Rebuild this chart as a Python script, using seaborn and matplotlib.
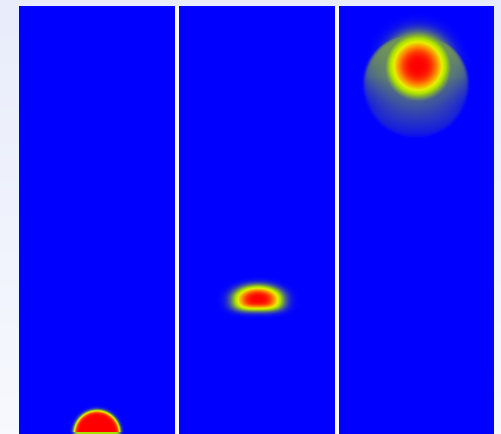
import numpy as np
import matplotlib
matplotlib.use("Agg")
import matplotlib.pyplot as plt
import seaborn as sns
from matplotlib.colors import LinearSegmentedColormap

# ---- data (panel-local pixel units) ----
panel_names = ["t0", "t1", "t2"]
grid_nx = [156, 156, 155]
grid_ny = [428, 428, 428]
# bubble core centres
core_x = [78, 79, 79]
core_y = [427.5, 293, 60]
# panel 1: sharp semicircle
cap_radius = 23.0
cap_edge = 1.1
# panel 2: soft cap (half widths at yellow level)
cap2_ax = 20.0
cap2_ay_top = 11.0
cap2_ay_bot = 9.5
cap2_p = 3.2
# panel 3: diffuse core + halo dome
core3_a = 30.0
core3_p = 3.0
halo_cx = 77
halo_cy = 79
halo_r = 52.0
halo_level = 0.3
halo_fade = [70, 140]

cmap_stops = [0.0, 0.45, 0.6, 0.8, 1.0]
cmap_colors = ["#0000ff", "#a8e000", "#e6f000", "#ff8000", "#ff0000"]


def field(i):
    ny, nx = grid_ny[i], grid_nx[i]
    y, x = np.mgrid[0:ny, 0:nx].astype(float)
    x = x + 0.5
    y = y + 0.5
    if i == 0:
        d = np.hypot(x - core_x[0], y - core_y[0])
        f = 1.0 / (1.0 + np.exp((d - cap_radius) / cap_edge))
        f[-2:, :] *= 0.45
    elif i == 1:
        dx = np.abs(x - core_x[1]) / cap2_ax
        top = y < core_y[1]
        ay = np.where(top, cap2_ay_top, cap2_ay_bot)
        dy = np.abs(y - core_y[1]) / ay
        q = np.where(top, 2.0, 3.0)
        d = (dx ** q + dy ** q) ** (1.0 / q)
        f = np.exp(-0.545 * d ** cap2_p)
    else:
        d = np.hypot(x - core_x[2], y - core_y[2])
        core = np.exp(-(d / core3_a) ** core3_p)
        dh = np.hypot(x - halo_cx, y - halo_cy)
        inside = 1.0 / (1.0 + np.exp((dh - halo_r) / 0.9))
        fade = np.clip((halo_fade[1] - y) / (halo_fade[1] - halo_fade[0]), 0, 1)
        t = np.clip((y - 40.0) / 60.0, 0, 1)
        lateral = np.clip(1.0 - 0.8 * t * (np.abs(x - halo_cx) / halo_r) ** 2, 0, 1)
        halo = halo_level * inside * fade * lateral
        f = np.maximum(core, halo)
    return f


cmap = LinearSegmentedColormap.from_list("bubble", list(zip(cmap_stops, cmap_colors)))

W, H = 501, 434
fig = plt.figure(figsize=(W / 100, H / 100), dpi=100)

# background gradient
bg = fig.add_axes([0, 0, 1, 1])
grad = np.linspace(0, 1, 100)[:, None]
bg_cmap = LinearSegmentedColormap.from_list("bg", ["#e9edfb", "#f7f9fe"])
bg.imshow(grad, aspect="auto", cmap=bg_cmap, extent=[0, 1, 0, 1])
bg.add_patch(plt.Rectangle((175 / W, 0), (339 - 175) / W, 428 / H, color="white", lw=0))
bg.set_xlim(0, 1)
bg.set_ylim(0, 1)
bg.axis("off")

lefts = [19, 179, 339]
for i in range(3):
    ax = fig.add_axes([lefts[i] / W, 0, grid_nx[i] / W, grid_ny[i] / H])
    sns.heatmap(field(i), ax=ax, cmap=cmap, vmin=0, vmax=1, cbar=False,
                xticklabels=False, yticklabels=False, rasterized=True)
    ax.set_xlabel("")
    ax.set_ylabel("")
    ax.tick_params(left=False, bottom=False)

fig.savefig("out.png", dpi=100)
